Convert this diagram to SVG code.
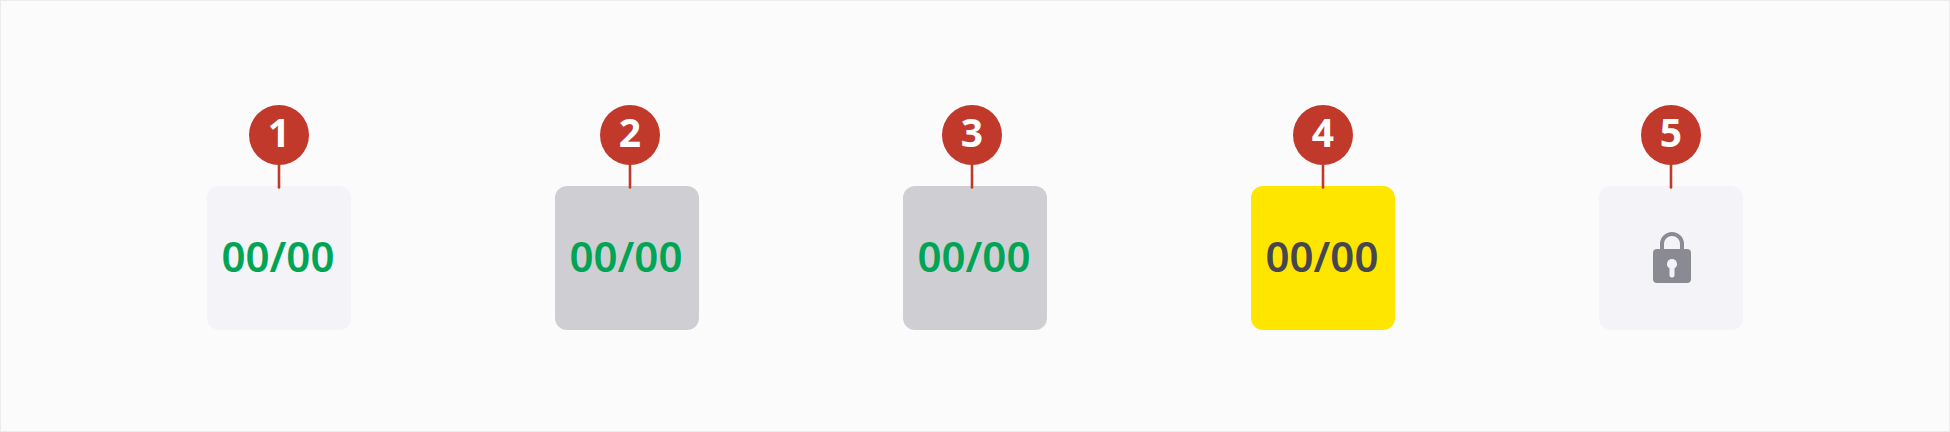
<svg xmlns="http://www.w3.org/2000/svg" width="1950" height="432" viewBox="0 0 1950 432">
<style>
.pin{fill:#c0392b}
.num{font-family:"Noto Sans",sans-serif;font-weight:700;font-size:39px;fill:#fff;text-anchor:middle}
.val{font-family:"Noto Sans",sans-serif;font-weight:600;font-size:42px;text-anchor:middle}
.lead{stroke:#c0392b;stroke-width:2.6;stroke-linecap:round;fill:none}
.lock{fill:#8a8b92}
</style>
<rect x="0.5" y="0.5" width="1949" height="431" fill="#fbfbfb" stroke="#ececec"/>
<g id="node1"><rect x="207" y="186" width="144" height="144" rx="12" fill="#f3f3f8"/><text class="val" x="278" y="272" fill="#00a455">00/00</text><circle class="pin" cx="279" cy="135" r="30"/><text class="num" x="279" y="147">1</text></g>
<g id="node2"><rect x="555" y="186" width="144" height="144" rx="12" fill="#cfcfd3"/><text class="val" x="626" y="272" fill="#00a455">00/00</text><circle class="pin" cx="630" cy="135" r="30"/><text class="num" x="630" y="147">2</text></g>
<g id="node3"><rect x="903" y="186" width="144" height="144" rx="12" fill="#cfcfd3"/><text class="val" x="974" y="272" fill="#00a455">00/00</text><circle class="pin" cx="972" cy="135" r="30"/><text class="num" x="972" y="147">3</text></g>
<g id="node4"><rect x="1251" y="186" width="144" height="144" rx="12" fill="#ffe600"/><text class="val" x="1322" y="272" fill="#46464f">00/00</text><circle class="pin" cx="1323" cy="135" r="30"/><text class="num" x="1323" y="147">4</text></g>
<g id="node5"><rect x="1599" y="186" width="144" height="144" rx="12" fill="#f3f3f8"/>
<path d="M1662 252v-8a10 10 0 0 1 20 0v8" fill="none" stroke="#8a8b92" stroke-width="4"/>
<rect class="lock" x="1653" y="249" width="38" height="34" rx="4"/>
<path d="M1672 259a5 5 0 0 1 2.500 9.300v6.700a2.500 2.500 0 0 1-5 0v-6.700a5 5 0 0 1 2.500-9.300z" fill="#f3f3f8"/>
<circle class="pin" cx="1671" cy="135" r="30"/><text class="num" x="1671" y="147">5</text></g>
<g id="connectors">
<line class="lead" x1="279" y1="165" x2="279" y2="187.500"/>
<line class="lead" x1="630" y1="165" x2="630" y2="187.500"/>
<line class="lead" x1="972" y1="165" x2="972" y2="187.500"/>
<line class="lead" x1="1323" y1="165" x2="1323" y2="187.500"/>
<line class="lead" x1="1671" y1="165" x2="1671" y2="187.500"/>
</g>
</svg>
